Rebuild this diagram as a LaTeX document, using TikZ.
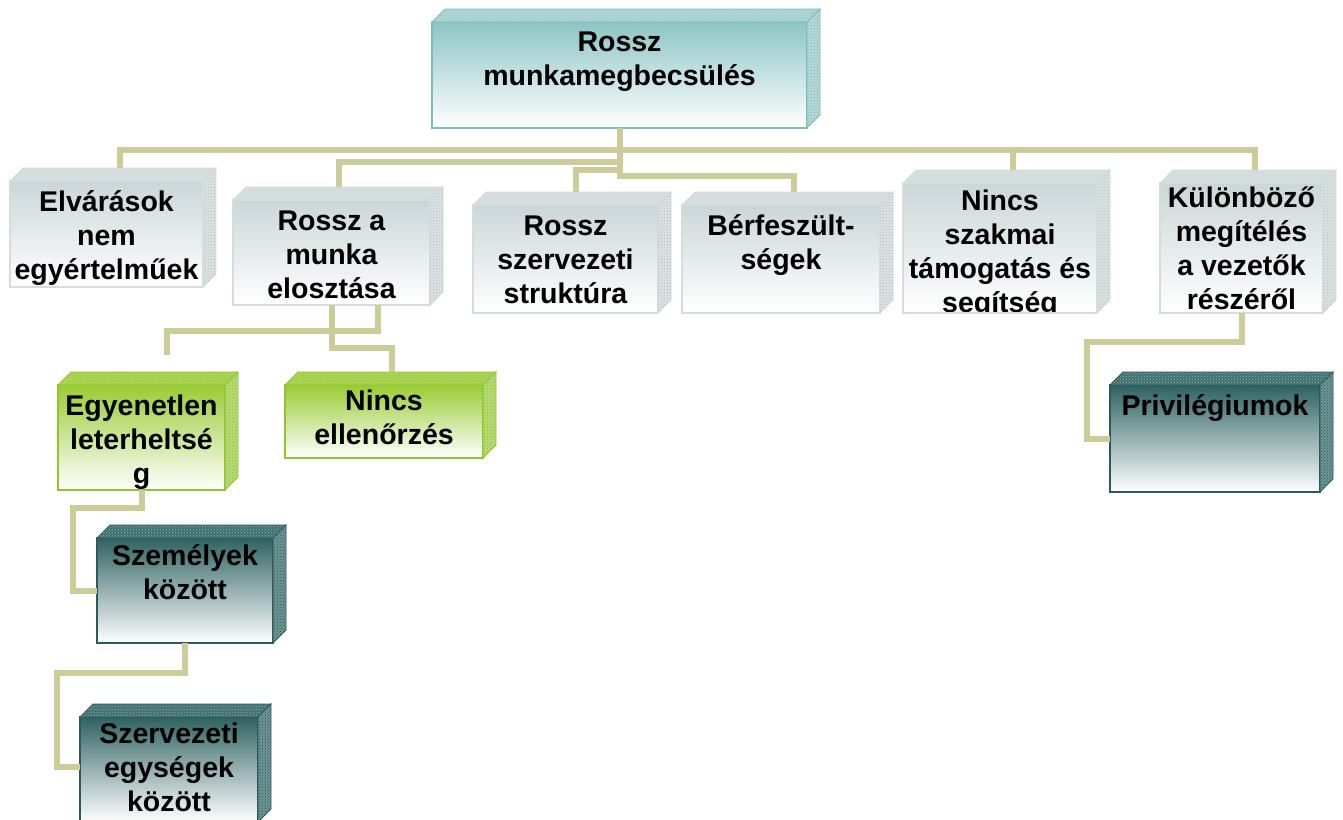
\documentclass[tikz,border=0pt]{standalone}
\usepackage{fontspec}
\setmainfont{Liberation Sans}
\usetikzlibrary{patterns}

\definecolor{linkc}{HTML}{CCCC99}
% teal (root)
\definecolor{tealT}{HTML}{8DC5C5}
\definecolor{tealE}{HTML}{7BBCBC}
\definecolor{tealF}{HTML}{A6D2D2}
\definecolor{tealS}{HTML}{B5D9D9}
\definecolor{tealD}{HTML}{7FB5B5}
% grey
\definecolor{grayT}{HTML}{CBD6D8}
\definecolor{grayE}{HTML}{D4DDDE}
\definecolor{grayF}{HTML}{D5DEDF}
\definecolor{grayS}{HTML}{DDE3E4}
\definecolor{grayD}{HTML}{AEB8BA}
% green
\definecolor{greenT}{HTML}{99CC33}
\definecolor{greenE}{HTML}{92C52D}
\definecolor{greenF}{HTML}{A3D043}
\definecolor{greenS}{HTML}{B8DC78}
\definecolor{greenD}{HTML}{88B830}
% dark teal
\definecolor{darkT}{HTML}{2F6262}
\definecolor{darkE}{HTML}{2C5A5A}
\definecolor{darkF}{HTML}{3F7272}
\definecolor{darkS}{HTML}{6E9494}
\definecolor{darkD}{HTML}{2C5A5A}

\tikzset{
  x=1pt, y=-1pt,
  cube/.style={rectangle, inner sep=0pt, outer sep=0pt, line width=1.3pt, bottom color=white},
  txt/.style={inner sep=0pt, anchor=base, font=\fontsize{28.5}{34}\selectfont\bfseries},
  link/.style={draw=linkc, line width=6pt},
  kindbox/.style={cube, top color=#1T, draw=#1E},
  kindtop/.style={fill=#1F, draw=#1E, line width=0.8pt,
                  postaction={pattern=crosshatch dots, pattern color=#1D!50}},
  kindside/.style={fill=#1S, draw=#1E, line width=0.8pt,
                   postaction={pattern=crosshatch dots, pattern color=#1D}},
}

\newcommand\lns[1]{\begin{tabular}[t]{@{}c@{}}#1\end{tabular}}

% #1 name, #2 x1, #3 y1, #4 x2, #5 y2, #6 kind, #7 first baseline offset, #8 text
\newcommand\cubebox[8]{%
  \node[kindbox=#6, anchor=north west,
        minimum width={(#4-#2)*1pt}, minimum height={(#5-#3)*1pt},
        path picture={\node[txt] (#1-label) at ([yshift=-#7pt]path picture bounding box.north) {\lns{#8}};}]
        (#1) at (#2,#3) {};
  \path[kindtop=#6] (#1.north west) -- ++(13,-13) -- ([shift={(13,-13)}]#1.north east)
        -- (#1.north east) -- cycle;
  \path[kindside=#6] (#1.north east) -- ++(13,-13) -- ([shift={(13,-13)}]#1.south east)
        -- (#1.south east) -- cycle;
  \coordinate (#1-top) at ([shift={(13,-13)}]#1.north);
}

\begin{document}
\begin{tikzpicture}
\useasboundingbox[fill=white] (0,0) rectangle (1343,819);

% root
\cubebox{root}{432}{22}{807}{128}{teal}{29}{Rossz\\munkamegbecsülés}
% second level
\cubebox{elv}{10}{181}{203}{287}{gray}{30}{Elvárások\\nem\\egyértelműek}
\cubebox{munka}{233}{200}{430}{305}{gray}{30}{Rossz a\\munka\\elosztása}
\cubebox{szerv}{473}{205}{658}{313}{gray}{30}{Rossz\\szervezeti\\struktúra}
\cubebox{berf}{682}{205}{880}{313}{gray}{30}{Bérfeszült-\\ségek}
\cubebox{nincs}{903}{183}{1097}{313}{gray}{27}{Nincs\\szakmai\\támogatás és\\segítség}
\cubebox{kulon}{1160}{183}{1323}{313}{gray}{24}{Különböző\\megítélés\\a vezetők\\részéről}
% third level
\cubebox{egyen}{58}{385}{225}{490}{green}{30}{Egyenetlen\\leterheltsé\\g}
\cubebox{ellen}{285}{385}{483}{458}{green}{25}{Nincs\\ellenőrzés}
\cubebox{priv}{1110}{385}{1320}{492}{dark}{30}{Privilégiumok}
% lower levels
\cubebox{szem}{97}{538}{273}{643}{dark}{27}{Személyek\\között}
\cubebox{szegy}{80}{717}{258}{822}{dark}{26}{Szervezeti\\egységek\\között}

% connectors from the root
\draw[link] (root.south) -- ++(0,22) -| (elv-top);
\draw[link] (root.south) -- ++(0,22) -| (nincs-top);
\draw[link] (root.south) -- ++(0,22) -| (kulon-top);
\draw[link] (root.south) -- ++(0,34) -| ([xshift=-6pt]munka-top);
\draw[link] (root.south) -- ++(0,42) -| ([xshift=-3pt]szerv-top);
\draw[link] (root.south) -- ++(0,48) -| (berf-top);

% connectors below "Rossz a munka elosztása"
\coordinate (egyen-in) at ([xshift=12pt, yshift=17pt]egyen-top);
\draw[link] ([xshift=46pt]munka.south) -- ++(0,26) -| (egyen-in);
\draw[link] (munka.south) -- ++(0,43) -| ([xshift=-5pt]ellen-top);

% chain on the left
\draw[link] (egyen.south) -- ++(0,18) -| ([xshift=-24pt]szem.west) -- (szem.west);
\draw[link] (szem.south) -- ++(0,30) -| ([xshift=-23pt, yshift=3pt]szegy.west) -- ([yshift=3pt]szegy.west);

% right branch
\draw[link] (kulon.south) -- ++(0,29) -| ([xshift=-23pt]priv.west) -- (priv.west);
\end{tikzpicture}
\end{document}
